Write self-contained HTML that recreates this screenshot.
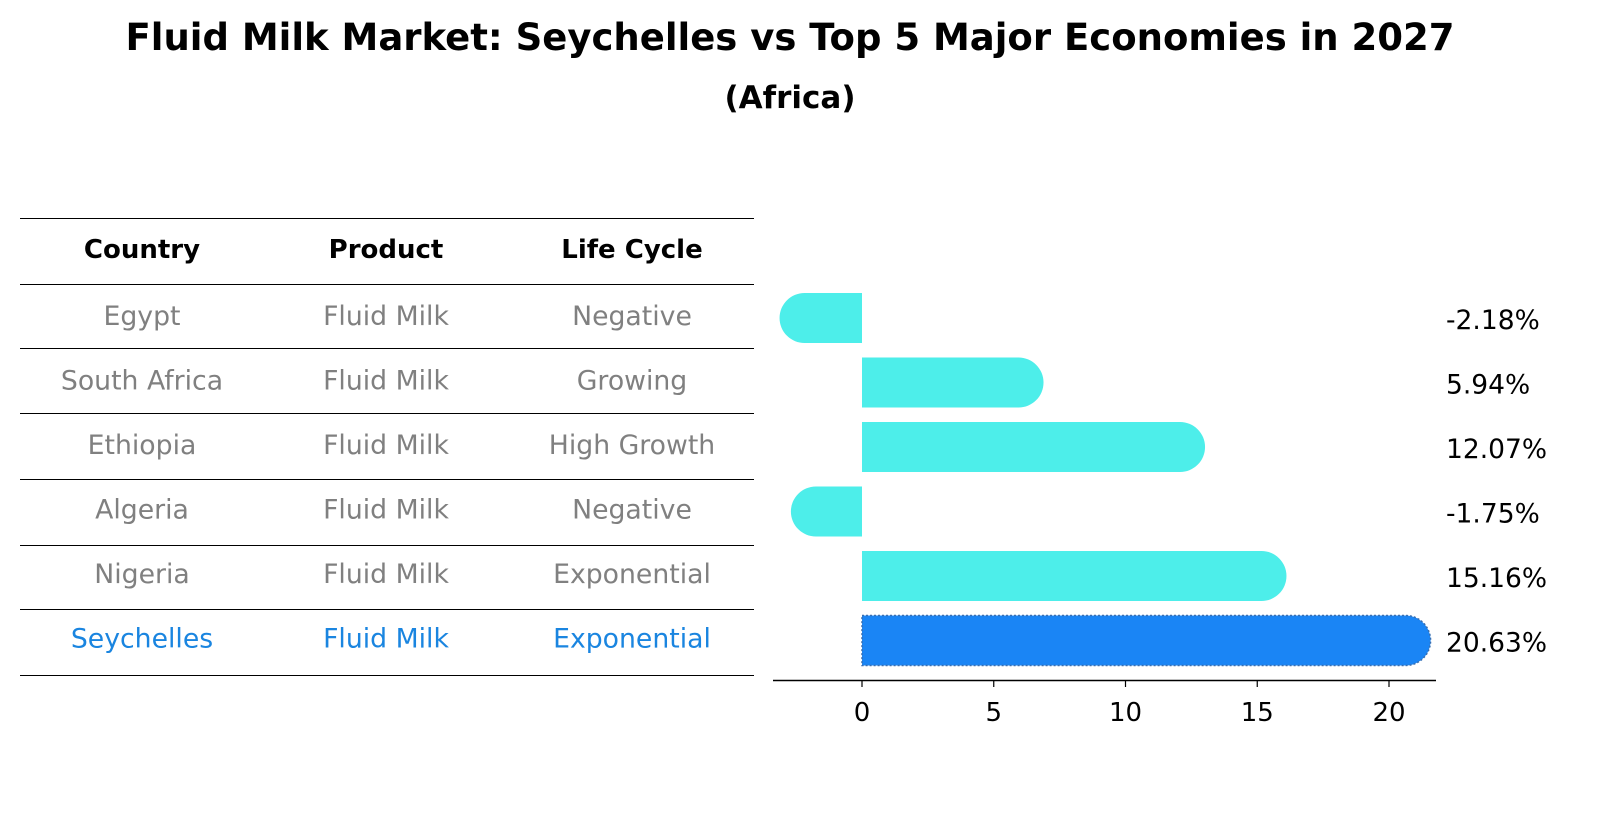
<!DOCTYPE html>
<html><head><meta charset="utf-8"><style>
body{margin:0;background:#fff;font-family:"Liberation Sans","DejaVu Sans",sans-serif;}
svg{display:block}
</style></head><body>
<svg width="1604" height="823" viewBox="0 0 1604 823">
<text x="790" y="50" text-anchor="middle" font-family="DejaVu Sans, sans-serif" font-weight="bold" font-size="37">Fluid Milk Market: Seychelles vs Top 5 Major Economies in 2027</text>
<text x="790" y="108" text-anchor="middle" font-family="DejaVu Sans, sans-serif" font-weight="bold" font-size="31">(Africa)</text>
<g id="table"></g>
<g id="bars"></g>
</svg>
<script>
const countries=["Egypt","South Africa","Ethiopia","Algeria","Nigeria","Seychelles"];
const products=["Fluid Milk","Fluid Milk","Fluid Milk","Fluid Milk","Fluid Milk","Fluid Milk"];
const lifecycle=["Negative","Growing","High Growth","Negative","Exponential","Exponential"];
const growth=[-2.18,5.94,12.07,-1.75,15.16,20.63];
const xTicks=[0,5,10,15,20];
const NS="http://www.w3.org/2000/svg";
function mk(t,a,p){const e=document.createElementNS(NS,t);for(const k in a)e.setAttribute(k,a[k]);p.appendChild(e);return e;}
const X=v=>862+v*26.35;
const rowY=i=>316+i*64.5;
const tbl=document.getElementById('table');
const lines=[218,284,348,413,479,545,609,675];
lines.forEach((y,i)=>{const l=mk('line',{x1:20,x2:754,y1:y+0.5,y2:y+0.5,stroke:'#000','stroke-width':1},tbl);

});
const cx=[142,386,632];
["Country","Product","Life Cycle"].forEach((h,j)=>{const t=mk('text',{x:cx[j],y:258,'text-anchor':'middle','font-family':'DejaVu Sans, sans-serif','font-weight':'bold','font-size':26},tbl);t.textContent=h;

});
countries.forEach((c,i)=>{const col=i===5?'#1a85e0':'#808080';
[c,products[i],lifecycle[i]].forEach((v,j)=>{const t=mk('text',{x:cx[j],y:rowY(i)+9,'text-anchor':'middle','font-family':'DejaVu Sans, sans-serif','font-size':26.7,fill:col},tbl);t.textContent=v;

});});
const g=document.getElementById('bars');
const H=50,R=25;
growth.forEach((v,i)=>{const y=rowY(i)+2;const x0=X(0),x1=X(v);const col=i===5?'#1a85f5':'#4deeea';
const dir=v>=0?1:-1;
const d=`M${x0},${y-H/2} L${x1},${y-H/2} A${R},${R} 0 0 ${dir>0?1:0} ${x1},${y+H/2} L${x0},${y+H/2} Z`;
const p=mk('path',{d:d,fill:col},g);
if(i===5){p.setAttribute('stroke','#3a6fb0');p.setAttribute('stroke-dasharray','2,2');p.setAttribute('stroke-width','1.5');}


const t=mk('text',{x:1446,y:y+11,'font-family':'DejaVu Sans, sans-serif','font-size':26.5},g);t.textContent=v.toFixed(2)+'%';

});
const ax=mk('line',{x1:773,x2:1436,y1:680.5,y2:680.5,stroke:'#000','stroke-width':1.5},g);


xTicks.forEach(v=>{const l=mk('line',{x1:X(v),x2:X(v),y1:680,y2:687,stroke:'#000','stroke-width':1.2},g);


const t=mk('text',{x:X(v),y:721,'text-anchor':'middle','font-family':'DejaVu Sans, sans-serif','font-size':26},g);t.textContent=v;

});
</script>
</body></html>
